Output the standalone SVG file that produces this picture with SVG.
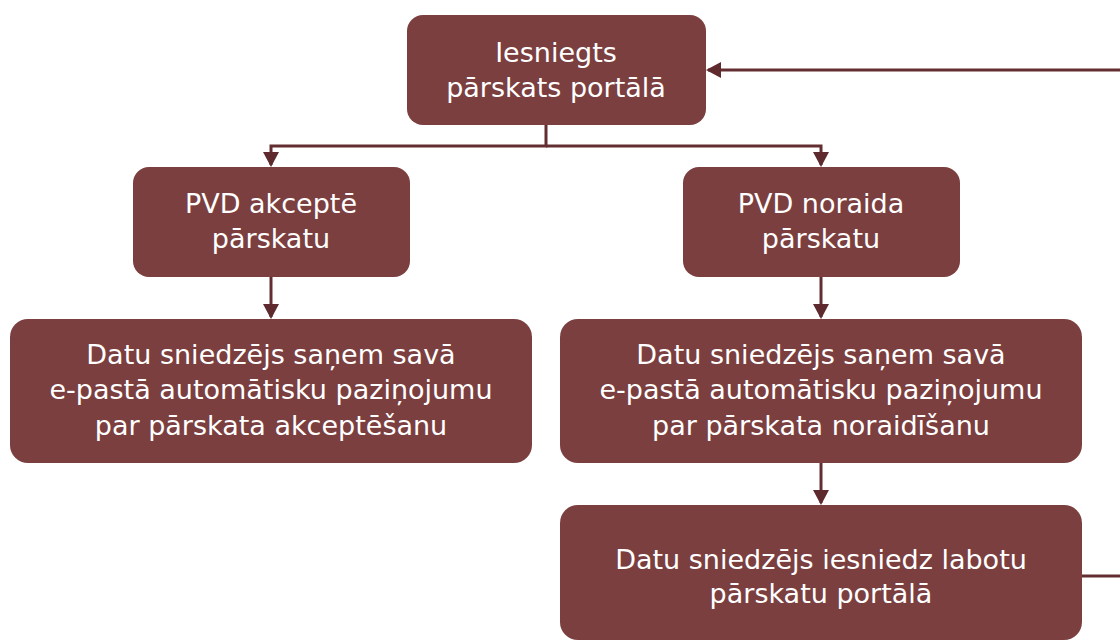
<svg xmlns="http://www.w3.org/2000/svg" width="1120" height="642" viewBox="0 0 1120 642">
  <style>
    .node { fill: #7b3f3f; }
    .lbl { fill: #ffffff; font-family: "DejaVu Sans", Verdana, sans-serif; font-size: 27px; text-anchor: middle; }
    .conn { fill: none; stroke: #622e31; stroke-width: 3; }
  </style>
  <defs>
    <marker id="arr" viewBox="0 0 15 16" refX="13" refY="8" markerWidth="15" markerHeight="16" markerUnits="userSpaceOnUse" orient="auto">
      <path d="M0,0 L15,8 L0,16 Z" fill="#5e2a2e"/>
    </marker>
  </defs>
  <rect width="1120" height="642" fill="#ffffff"/>

  <g id="connectors">
    <path class="conn" d="M546,125 V146 H271 V165" marker-end="url(#arr)"/>
    <path class="conn" d="M546,146 H821 V165" marker-end="url(#arr)"/>
    <path class="conn" d="M271,277 V317" marker-end="url(#arr)"/>
    <path class="conn" d="M821,277 V317" marker-end="url(#arr)"/>
    <path class="conn" d="M821,463 V503" marker-end="url(#arr)"/>
    <path class="conn" d="M1082,576 H1140"/>
    <path class="conn" d="M1140,70 H708" marker-end="url(#arr)"/>
  </g>

  <g id="n-iesniegts">
    <rect class="node" x="407" y="15" width="299" height="110" rx="16"/>
    <text class="lbl" x="556" y="62">Iesniegts</text>
    <text class="lbl" x="556" y="97">pārskats portālā</text>
  </g>

  <g id="n-akcepte">
    <rect class="node" x="133" y="167" width="277" height="110" rx="16"/>
    <text class="lbl" x="271" y="213">PVD akceptē</text>
    <text class="lbl" x="271" y="248">pārskatu</text>
  </g>

  <g id="n-noraida">
    <rect class="node" x="683" y="167" width="277" height="110" rx="16"/>
    <text class="lbl" x="821" y="213">PVD noraida</text>
    <text class="lbl" x="821" y="248">pārskatu</text>
  </g>

  <g id="n-pazinojums-akcept">
    <rect class="node" x="10" y="319" width="522" height="144" rx="18"/>
    <text class="lbl" x="271" y="364">Datu sniedzējs saņem savā</text>
    <text class="lbl" x="271" y="399">e-pastā automātisku paziņojumu</text>
    <text class="lbl" x="271" y="435">par pārskata akceptēšanu</text>
  </g>

  <g id="n-pazinojums-noraid">
    <rect class="node" x="560" y="319" width="522" height="144" rx="18"/>
    <text class="lbl" x="821" y="364">Datu sniedzējs saņem savā</text>
    <text class="lbl" x="821" y="399">e-pastā automātisku paziņojumu</text>
    <text class="lbl" x="821" y="435">par pārskata noraidīšanu</text>
  </g>

  <g id="n-labots">
    <rect class="node" x="560" y="505" width="522" height="135" rx="18"/>
    <text class="lbl" x="821" y="569">Datu sniedzējs iesniedz labotu</text>
    <text class="lbl" x="821" y="603">pārskatu portālā</text>
  </g>
</svg>
